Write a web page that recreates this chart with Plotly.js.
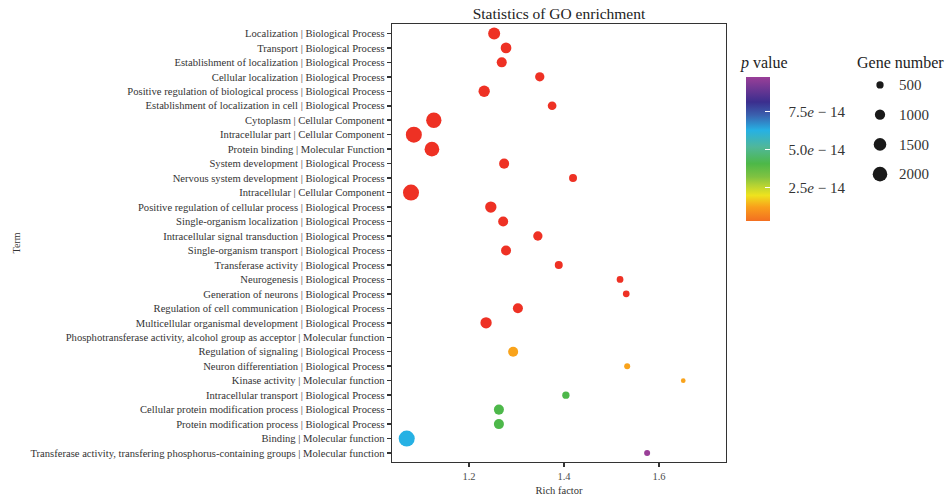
<!DOCTYPE html>
<html><head><meta charset="utf-8">
<script src="https://cdn.plot.ly/plotly-3.0.1.min.js"></script>
<style>html,body{margin:0;padding:0;background:#fff}#chart{width:945px;height:496px}</style>
</head><body><div id="chart"></div>
<script>
const terms = [
  "Localization | Biological Process",
  "Transport | Biological Process",
  "Establishment of localization | Biological Process",
  "Cellular localization | Biological Process",
  "Positive regulation of biological process | Biological Process",
  "Establishment of localization in cell | Biological Process",
  "Cytoplasm | Cellular Component",
  "Intracellular part | Cellular Component",
  "Protein binding | Molecular Function",
  "System development | Biological Process",
  "Nervous system development | Biological Process",
  "Intracellular | Cellular Component",
  "Positive regulation of cellular process | Biological Process",
  "Single-organism localization | Biological Process",
  "Intracellular signal transduction | Biological Process",
  "Single-organism transport | Biological Process",
  "Transferase activity | Biological Process",
  "Neurogenesis | Biological Process",
  "Generation of neurons | Biological Process",
  "Regulation of cell communication | Biological Process",
  "Multicellular organismal development | Biological Process",
  "Phosphotransferase activity, alcohol group as acceptor | Molecular function",
  "Regulation of signaling | Biological Process",
  "Neuron differentiation | Biological Process",
  "Kinase activity | Molecular function",
  "Intracellular transport | Biological Process",
  "Cellular protein modification process | Biological Process",
  "Protein modification process | Biological Process",
  "Binding | Molecular function",
  "Transferase activity, transfering phosphorus-containing groups | Molecular function"
];
const richFactor = [1.253, 1.278, 1.269, 1.349, 1.232, 1.375, 1.126, 1.084, 1.122, 1.274,
                    1.419, 1.078, 1.246, 1.272, 1.345, 1.278, 1.389, 1.518, 1.531, 1.303,
                    1.236, null, 1.293, 1.533, 1.651, 1.404, 1.263, 1.263, 1.069, 1.575];
const geneNumber = [1360, 1080, 950, 820, 1210, 720, 2220, 2420, 2050, 950,
                    600, 2430, 1210, 950, 820, 950, 600, 430, 430, 950,
                    1210, null, 950, 340, 210, 510, 950, 950, 2430, 340];
const pValue = [1e-16, 1e-16, 1e-16, 1e-16, 1e-16, 1e-16, 1e-16, 1e-16, 1e-16, 1e-16,
                1e-16, 1e-16, 1e-16, 1e-16, 1e-16, 1e-16, 1e-16, 1e-16, 1e-16, 1e-16,
                1e-16, null, 1.25e-14, 1.25e-14, 1.25e-14, 4.1e-14, 4.1e-14, 4.1e-14, 6.27e-14, 9.77e-14];
const sizeLegendValues = [500, 1000, 1500, 2000];
const sizeLegendLabels = ["500", "1000", "1500", "2000"];
const pTickVals = [2.5e-14, 5.0e-14, 7.5e-14];
const pTickText = ["2.5<i>e</i> − 14", "5.0<i>e</i> − 14", "7.5<i>e</i> − 14"];
const xTickVals = [1.2, 1.4, 1.6];
const xTickText = ["1.2", "1.4", "1.6"];

const FONT = "Liberation Serif, Times New Roman, serif";
const W = 945, H = 496;
const SIZEREF = 18.9;
const PAD = "\u00A0\u00A0\u00A0\u00A0";
const colorscale = [
  [0, "#EE3124"], [0.0005, "#F36F21"], [0.097, "#F9A01B"], [0.178, "#EEE31E"],
  [0.248, "#B5D333"], [0.306, "#80C241"], [0.398, "#4DB848"], [0.514, "#50B79A"],
  [0.63, "#26B1E4"], [0.734, "#3A62AF"], [0.826, "#3B2E8E"], [1, "#9A3F98"]
];

const main = {
  type: "scatter", mode: "markers",
  x: richFactor, y: terms,
  marker: {
    size: geneNumber, sizemode: "area", sizeref: SIZEREF,
    color: pValue, cmin: 0.3e-14, cmax: 9.77e-14, colorscale: colorscale,
    line: {width: 0}, opacity: 1,
    showscale: true,
    colorbar: {
      x: 746 / W, xanchor: "left", xref: "paper", xpad: 0, ypad: 0,
      y: 1 - 149 / H, yanchor: "middle", yref: "paper",
      thickness: 24, thicknessmode: "pixels", len: 144, lenmode: "pixels",
      outlinewidth: 0, ticks: "inside", ticklen: 5, tickwidth: 1.5, tickcolor: "#ffffff",
      tickvals: pTickVals, ticktext: pTickText.map(t => PAD + t),
      tickfont: {family: FONT, size: 15, color: "#333"}
    }
  },
  showlegend: false, hoverinfo: "x+y"
};

const sizeKey = {
  type: "scatter", mode: "markers",
  x: sizeLegendLabels.map(() => "key"), y: sizeLegendLabels,
  xaxis: "x2", yaxis: "y2",
  marker: {size: sizeLegendValues, sizemode: "area", sizeref: SIZEREF, color: "#1a1a1a",
           opacity: 1, line: {width: 0}},
  showlegend: false, hoverinfo: "skip"
};

const layout = {
  width: W, height: H,
  margin: {l: 0, r: 0, t: 0, b: 0},
  paper_bgcolor: "#fff", plot_bgcolor: "#fff",
  font: {family: FONT, color: "#333"},
  title: {text: "Statistics of GO enrichment", x: 559 / W, xanchor: "center", xref: "paper",
          y: 1 - 14 / H, yanchor: "middle", yref: "paper", font: {family: FONT, size: 15.5, color: "#222"}},
  xaxis: {
    domain: [392 / W, 726 / W], range: [1.038, 1.741], automargin: false,
    tickvals: xTickVals, ticktext: xTickText,
    ticks: "outside", ticklen: 4, tickwidth: 1.5, tickcolor: "#333",
    showline: true, mirror: true, linecolor: "#333", linewidth: 1.3,
    showgrid: false, zeroline: false,
    tickfont: {family: FONT, size: 10.5, color: "#4d4d4d"},
    title: {text: "Rich factor", font: {family: FONT, size: 10.5, color: "#333"}, standoff: 6}
  },
  yaxis: {
    domain: [1 - 462 / H, 1 - 24 / H], type: "category", categoryarray: terms, categoryorder: "array",
    range: [29.62, -0.65], automargin: false,
    ticks: "outside", ticklen: 4, tickwidth: 1.5, tickcolor: "#333",
    showline: true, mirror: true, linecolor: "#333", linewidth: 1.3,
    showgrid: false, zeroline: false,
    tickfont: {family: FONT, size: 10.6, color: "#333"},
    title: {text: "Term", font: {family: FONT, size: 10, color: "#333"}, standoff: 8}
  },
  xaxis2: {
    domain: [870 / W, 890 / W], anchor: "y2", type: "category", visible: false,
    fixedrange: true
  },
  yaxis2: {
    domain: [1 - 189 / H, 1 - 70 / H], anchor: "x2", side: "right", type: "category",
    categoryarray: sizeLegendLabels, categoryorder: "array", range: [3.5, -0.5],
    showline: false, ticks: "", showgrid: false, zeroline: false, ticklabelstandoff: 8,
    tickfont: {family: FONT, size: 15, color: "#333"}, fixedrange: true
  },
  annotations: [
    {text: "Gene number", xref: "paper", yref: "paper", x: 855 / W, y: 1 - 62 / H,
     xanchor: "left", yanchor: "middle", showarrow: false, font: {family: FONT, size: 16, color: "#222"}},
    {text: "<i>p</i> value", xref: "paper", yref: "paper", x: 738 / W, y: 1 - 63 / H,
     xanchor: "left", yanchor: "middle", showarrow: false, font: {family: FONT, size: 16, color: "#222"}}
  ]
};

Plotly.newPlot("chart", [main, sizeKey], layout, {displayModeBar: false, staticPlot: true});
</script>
</body></html>
